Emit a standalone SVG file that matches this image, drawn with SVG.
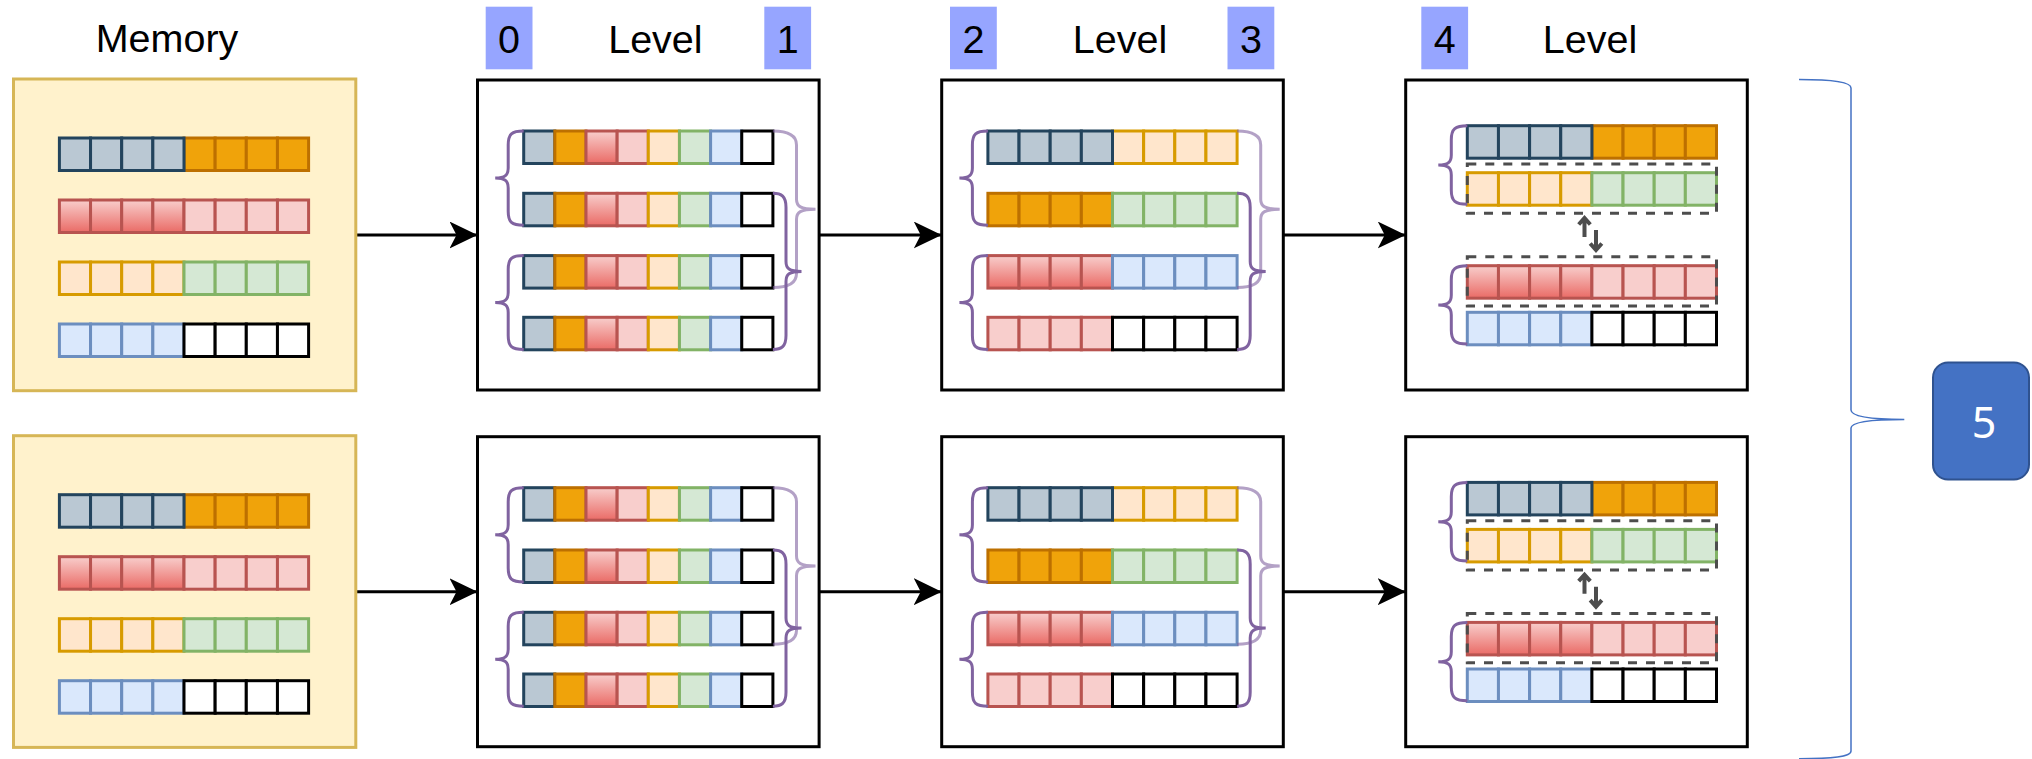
<svg xmlns="http://www.w3.org/2000/svg" xmlns:xlink="http://www.w3.org/1999/xlink" width="2032" height="759" viewBox="0 0 2032 759">
<style>
  .txt { font-family: "Liberation Sans", Arial, sans-serif; font-size: 39.5px; fill: #000; text-anchor: middle; }
  .lbl { fill: #96A5FF; }
  .cell { stroke-width: 3; }
  .gray { fill: #BAC8D3; stroke: #23445D; }
  .orange { fill: #F0A30A; stroke: #BD7000; }
  .redg { fill: url(#gradRed); stroke: #B85450; }
  .pink { fill: #F8CECC; stroke: #B85450; }
  .peach { fill: #FFE6CC; stroke: #D79B00; }
  .green { fill: #D5E8D4; stroke: #82B366; }
  .blue { fill: #DAE8FC; stroke: #6C8EBF; }
  .white { fill: #FFFFFF; stroke: #000000; }
  .mem { fill: #FFF2CC; stroke: #D6B656; stroke-width: 3; }
  .lvl { fill: #FFFFFF; stroke: #000000; stroke-width: 3; }
  .brace { fill: none; stroke: #8063A0; stroke-width: 3; }
  .brace-light { fill: none; stroke: #8063A0; stroke-width: 3; opacity: 0.6; }
  .dash { fill: none; stroke: #4D4D4D; stroke-width: 3; stroke-dasharray: 9 9; }
  .swap { fill: none; stroke: #4D4D4D; stroke-width: 4; }
  .conn { fill: none; stroke: #000; stroke-width: 3; }
</style>
<defs>
  <linearGradient id="gradRed" x1="0" y1="0" x2="0" y2="1">
    <stop offset="0" stop-color="#F8CECC"/>
    <stop offset="1" stop-color="#EA6B66"/>
  </linearGradient>
  <marker id="arr" markerUnits="userSpaceOnUse" viewBox="-28 -13.5 28 27" refX="0" refY="0" markerWidth="28" markerHeight="27" orient="auto">
    <path d="M0,0 L-28,-13.5 L-21,0 L-28,13.5 Z" fill="#000"/>
  </marker>
  <!-- cells -->
  <rect id="c-gray" class="cell gray" width="31.15" height="32.5"/>
  <rect id="c-orange" class="cell orange" width="31.15" height="32.5"/>
  <rect id="c-redg" class="cell redg" width="31.15" height="32.5"/>
  <rect id="c-pink" class="cell pink" width="31.15" height="32.5"/>
  <rect id="c-peach" class="cell peach" width="31.15" height="32.5"/>
  <rect id="c-green" class="cell green" width="31.15" height="32.5"/>
  <rect id="c-blue" class="cell blue" width="31.15" height="32.5"/>
  <rect id="c-white" class="cell white" width="31.15" height="32.5"/>
  <!-- rows -->
  <g id="r-mix">
    <use href="#c-gray" x="0"/><use href="#c-orange" x="31.15"/><use href="#c-redg" x="62.3"/><use href="#c-pink" x="93.45"/>
    <use href="#c-peach" x="124.6"/><use href="#c-green" x="155.75"/><use href="#c-blue" x="186.9"/><use href="#c-white" x="218.05"/>
  </g>
  <g id="r-go">
    <use href="#c-orange" x="124.6"/><use href="#c-orange" x="155.75"/><use href="#c-orange" x="186.9"/><use href="#c-orange" x="218.05"/>
    <use href="#c-gray" x="0"/><use href="#c-gray" x="31.15"/><use href="#c-gray" x="62.3"/><use href="#c-gray" x="93.45"/>
  </g>
  <g id="r-rp">
    <use href="#c-redg" x="0"/><use href="#c-redg" x="31.15"/><use href="#c-redg" x="62.3"/><use href="#c-redg" x="93.45"/>
    <use href="#c-pink" x="124.6"/><use href="#c-pink" x="155.75"/><use href="#c-pink" x="186.9"/><use href="#c-pink" x="218.05"/>
  </g>
  <g id="r-pg">
    <use href="#c-peach" x="0"/><use href="#c-peach" x="31.15"/><use href="#c-peach" x="62.3"/><use href="#c-peach" x="93.45"/>
    <use href="#c-green" x="124.6"/><use href="#c-green" x="155.75"/><use href="#c-green" x="186.9"/><use href="#c-green" x="218.05"/>
  </g>
  <g id="r-bw">
    <use href="#c-blue" x="0"/><use href="#c-blue" x="31.15"/><use href="#c-blue" x="62.3"/><use href="#c-blue" x="93.45"/>
    <use href="#c-white" x="124.6"/><use href="#c-white" x="155.75"/><use href="#c-white" x="186.9"/><use href="#c-white" x="218.05"/>
  </g>
  <g id="r-gp">
    <use href="#c-peach" x="124.6"/><use href="#c-peach" x="155.75"/><use href="#c-peach" x="186.9"/><use href="#c-peach" x="218.05"/>
    <use href="#c-gray" x="0"/><use href="#c-gray" x="31.15"/><use href="#c-gray" x="62.3"/><use href="#c-gray" x="93.45"/>
  </g>
  <g id="r-og">
    <use href="#c-orange" x="0"/><use href="#c-orange" x="31.15"/><use href="#c-orange" x="62.3"/><use href="#c-orange" x="93.45"/>
    <use href="#c-green" x="124.6"/><use href="#c-green" x="155.75"/><use href="#c-green" x="186.9"/><use href="#c-green" x="218.05"/>
  </g>
  <g id="r-rb">
    <use href="#c-redg" x="0"/><use href="#c-redg" x="31.15"/><use href="#c-redg" x="62.3"/><use href="#c-redg" x="93.45"/>
    <use href="#c-blue" x="124.6"/><use href="#c-blue" x="155.75"/><use href="#c-blue" x="186.9"/><use href="#c-blue" x="218.05"/>
  </g>
  <g id="r-pw">
    <use href="#c-pink" x="0"/><use href="#c-pink" x="31.15"/><use href="#c-pink" x="62.3"/><use href="#c-pink" x="93.45"/>
    <use href="#c-white" x="124.6"/><use href="#c-white" x="155.75"/><use href="#c-white" x="186.9"/><use href="#c-white" x="218.05"/>
  </g>
  <!-- node contents in local coordinates -->
  <g id="mem-content">
    <rect class="mem" x="0" y="0" width="342.3" height="311.7"/>
    <use href="#r-go" x="45.9" y="59"/>
    <use href="#r-rp" x="45.9" y="121"/>
    <use href="#r-pg" x="45.9" y="183"/>
    <use href="#r-bw" x="45.9" y="245"/>
  </g>
  <g id="braces-12">
    <path class="brace" d="M46.2,51 C34.2,51 30.7,54 30.7,65 V88 C30.7,95 27.7,98 17.7,98 C27.7,98 30.7,101 30.7,108 V131.3 C30.7,142.3 34.2,145.3 46.2,145.3"/>
    <path class="brace" d="M46.2,175.6 C34.2,175.6 30.7,178.6 30.7,189.6 V212.5 C30.7,219.5 27.7,222.5 17.7,222.5 C27.7,222.5 30.7,225.5 30.7,232.5 V255.5 C30.7,266.5 34.2,269.5 46.2,269.5"/>
    <path class="brace-light" d="M295.4,51 C309,51 319,54 319,65 V119.3 C319,126.3 323,129.3 338,129.3 C323,129.3 319,132.3 319,139.3 V193.6 C319,204.6 309,207.6 295.4,207.6"/>
    <path class="brace" d="M295.4,113.3 C304,113.3 308.5,116.3 308.5,127.3 V181.4 C308.5,188.4 311.5,191.4 324,191.4 C311.5,191.4 308.5,194.4 308.5,201.4 V255.5 C308.5,266.5 304,269.5 295.4,269.5"/>
  </g>
  <g id="l1-content">
    <rect class="lvl" x="0" y="0" width="341.6" height="310"/>
    <use href="#r-mix" x="46.2" y="51"/>
    <use href="#r-mix" x="46.2" y="113.3"/>
    <use href="#r-mix" x="46.2" y="175.6"/>
    <use href="#r-mix" x="46.2" y="237.3"/>
    <use href="#braces-12"/>
  </g>
  <g id="l2-content">
    <rect class="lvl" x="0" y="0" width="341.6" height="310"/>
    <use href="#r-gp" x="46.2" y="51"/>
    <use href="#r-og" x="46.2" y="113.3"/>
    <use href="#r-rb" x="46.2" y="175.6"/>
    <use href="#r-pw" x="46.2" y="237.3"/>
    <use href="#braces-12"/>
  </g>
  <g id="l3-content">
    <rect class="lvl" x="0" y="0" width="341.6" height="310"/>
    <use href="#r-go" x="61.6" y="45.7"/>
    <use href="#r-pg" x="61.6" y="92.7"/>
    <use href="#r-rp" x="61.6" y="185.7"/>
    <use href="#r-bw" x="61.6" y="232.3"/>
    <rect class="dash" x="61.6" y="84" width="249.2" height="49.3"/>
    <rect class="dash" x="61.6" y="176.7" width="249.2" height="49.3"/>
    <path class="swap" d="M178.8,157 V139 M173,144.5 L178.8,138 L184.6,144.5"/>
    <path class="swap" d="M190.3,150 V169 M184.5,163.5 L190.3,170 L196.1,163.5"/>
    <path class="brace" d="M61.6,45.7 C49.6,45.7 45.6,48.7 45.6,59.7 V75 C45.6,82 42.6,85 32.6,85 C42.6,85 45.6,88 45.6,95 V110.3 C45.6,121.3 49.6,124.3 61.6,124.3"/>
    <path class="brace" d="M61.6,185.7 C49.6,185.7 45.6,188.7 45.6,199.7 V215 C45.6,222 42.6,225 32.6,225 C42.6,225 45.6,228 45.6,235 V250 C45.6,261 49.6,264 61.6,264"/>
  </g>
</defs>

<rect x="0" y="0" width="2032" height="759" fill="#FFFFFF"/>

<!-- header labels -->
<g id="header">
  <text class="txt" x="167" y="52.3">Memory</text>
  <rect class="lbl" x="485.7" y="6.7" width="46.8" height="62.6"/>
  <text class="txt" x="509.1" y="52.7">0</text>
  <text class="txt" x="655.4" y="52.7">Level</text>
  <rect class="lbl" x="764.3" y="6.7" width="46.8" height="62.6"/>
  <text class="txt" x="787.7" y="52.7">1</text>
  <rect class="lbl" x="950" y="6.7" width="46.8" height="62.6"/>
  <text class="txt" x="973.4" y="52.7">2</text>
  <text class="txt" x="1120" y="52.7">Level</text>
  <rect class="lbl" x="1227.5" y="6.7" width="46.8" height="62.6"/>
  <text class="txt" x="1250.9" y="52.7">3</text>
  <rect class="lbl" x="1421.3" y="6.7" width="46.8" height="62.6"/>
  <text class="txt" x="1444.7" y="52.7">4</text>
  <text class="txt" x="1590" y="52.7">Level</text>
</g>

<!-- connectors -->
<g id="connectors">
  <path class="conn" d="M356,235 H477.5" marker-end="url(#arr)"/>
  <path class="conn" d="M819,235 H941.7" marker-end="url(#arr)"/>
  <path class="conn" d="M1283.3,235 H1405.7" marker-end="url(#arr)"/>
  <path class="conn" d="M356,591.7 H477.5" marker-end="url(#arr)"/>
  <path class="conn" d="M819,591.7 H941.7" marker-end="url(#arr)"/>
  <path class="conn" d="M1283.3,591.7 H1405.7" marker-end="url(#arr)"/>
</g>

<!-- nodes: top row -->
<g id="memory-top" transform="translate(13.5,79)"><use href="#mem-content"/></g>
<g id="level01-top" transform="translate(477.5,80)"><use href="#l1-content"/></g>
<g id="level23-top" transform="translate(941.7,80)"><use href="#l2-content"/></g>
<g id="level4-top" transform="translate(1405.7,80)"><use href="#l3-content"/></g>

<!-- nodes: bottom row -->
<g id="memory-bottom" transform="translate(13.5,435.7)"><use href="#mem-content"/></g>
<g id="level01-bottom" transform="translate(477.5,436.7)"><use href="#l1-content"/></g>
<g id="level23-bottom" transform="translate(941.7,436.7)"><use href="#l2-content"/></g>
<g id="level4-bottom" transform="translate(1405.7,436.7)"><use href="#l3-content"/></g>

<!-- big brace -->
<g id="big-brace">
  <path d="M1799,79.6 C1832,79.6 1851,82 1851,88 V410 C1851,416 1868,419.4 1904.3,419.4 C1868,419.4 1851,422 1851,428 V751 C1851,757 1832,758.7 1799,758.7" fill="none" stroke="#4472C4" stroke-width="1.5"/>
</g>

<!-- step 5 -->
<g id="step5">
  <rect x="1933" y="362.5" width="96" height="117" rx="15" ry="15" fill="#4472C4" stroke="#2F528F" stroke-width="2"/>
  <text x="1984" y="438" font-family="'Noto Sans', 'Open Sans', sans-serif" font-size="43" fill="#FFFFFF" text-anchor="middle">5</text>
</g>
</svg>
